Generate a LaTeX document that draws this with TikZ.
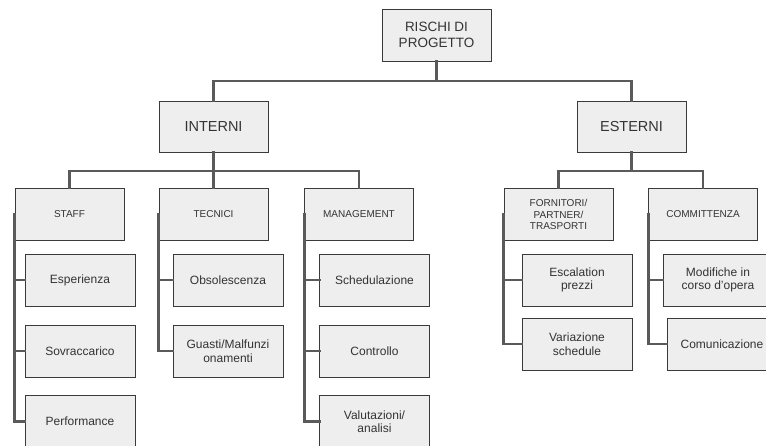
\documentclass[tikz,border=0pt]{standalone}
\usepackage{fontspec}
\setmainfont{Liberation Sans}
\definecolor{boxfill}{HTML}{EEEEEE}
\definecolor{boxline}{HTML}{3A3A3A}
\definecolor{wire}{HTML}{5A5A5A}
\definecolor{txt}{HTML}{333333}
\tikzset{
  box/.style={draw=boxline, fill=boxfill, line width=0.8pt, minimum width=109pt,
    minimum height=52pt, inner sep=0pt, align=center, text=txt},
  rootbox/.style={box, font=\fontsize{13.5}{16.5}\selectfont},
  groupbox/.style={box, minimum height=51pt, font=\fontsize{14.5}{17}\selectfont},
  catbox/.style={box, font=\fontsize{10}{11.7}\selectfont},
  leafbox/.style={box, minimum width=110pt, font=\fontsize{12}{13.5}\selectfont},
  wirel/.style={draw=wire, line width=2.8pt, line cap=rect, line join=miter}
}
\begin{document}
\begin{tikzpicture}[x=1pt, y=-1pt]
\clip (0,0) rectangle (766,446);
\fill[white] (0,0) rectangle (766,446);

% bus levels
\coordinate (bus1) at (0,81);
\coordinate (bus2) at (0,171);

% top of the tree
\node[rootbox]  (root)    at (436.5,35)    {RISCHI DI\\PROGETTO};
\node[groupbox] (interni) at (213.5,126.5) {INTERNI};
\node[groupbox] (esterni) at (631.5,126.5) {ESTERNI};

% categories
\node[catbox] (staff) at (69.5,214.5) {STAFF};
\node[catbox] (tecn)  at (213.5,214.5) {TECNICI};
\node[catbox] (mgmt)  at (359,214.5)  {MANAGEMENT};
\node[catbox] (forn)  at (558.5,214.5) {FORNITORI/\\PARTNER/\\TRASPORTI};
\node[catbox] (comm)  at (703,214.5)  {COMMITTENZA};

% leaves
\node[leafbox] (esp)  at (80,280)    {Esperienza};
\node[leafbox] (sovr) at (80,351)    {Sovraccarico};
\node[leafbox] (perf) at (80,421.5)  {Performance};
\node[leafbox] (obs)  at (228,280)   {Obsolescenza};
\node[leafbox] (gua)  at (228,351)   {Guasti/Malfunzi\\onamenti};
\node[leafbox] (sched) at (374.5,280) {Schedulazione};
\node[leafbox] (ctrl) at (374.5,351) {Controllo};
\node[leafbox] (val)  at (374.5,421.5) {Valutazioni/\\analisi};
\node[leafbox] (esc)  at (577,280)   {Escalation\\prezzi};
\node[leafbox] (var)  at (577,344)   {Variazione\\schedule};
\node[leafbox] (mod)  at (718,280)   {Modifiche in\\corso d'opera};
\node[leafbox] (com)  at (722,344)   {Comunicazione};

% tree connectors
\draw[wirel] (root.south) -- (root.south |- bus1);
\draw[wirel] (interni.north) -- (interni.north |- bus1) -| (esterni.north);
\draw[wirel] (interni.south) -- (interni.south |- bus2);
\draw[wirel] (staff.north) -- (staff.north |- bus2) -| (mgmt.north);
\draw[wirel] (tecn.north) -- (tecn.north |- bus2);
\draw[wirel] (esterni.south) -- (esterni.south |- bus2);
\draw[wirel] (forn.north) -- (forn.north |- bus2) -| (comm.north);

% side rails to the leaves
\draw[wirel] (staff.west) |- (perf.west);
\draw[wirel] (staff.west |- esp.west) -- (esp.west);
\draw[wirel] (staff.west |- sovr.west) -- (sovr.west);
\draw[wirel] (tecn.west) |- (gua.west);
\draw[wirel] (tecn.west |- obs.west) -- (obs.west);
\draw[wirel] (mgmt.west) |- (val.west);
\draw[wirel] (mgmt.west |- sched.west) -- (sched.west);
\draw[wirel] (mgmt.west |- ctrl.west) -- (ctrl.west);
\draw[wirel] (forn.west) |- (var.west);
\draw[wirel] (forn.west |- esc.west) -- (esc.west);
\draw[wirel] (comm.west) |- (com.west);
\draw[wirel] (comm.west |- mod.west) -- (mod.west);
\end{tikzpicture}
\end{document}
